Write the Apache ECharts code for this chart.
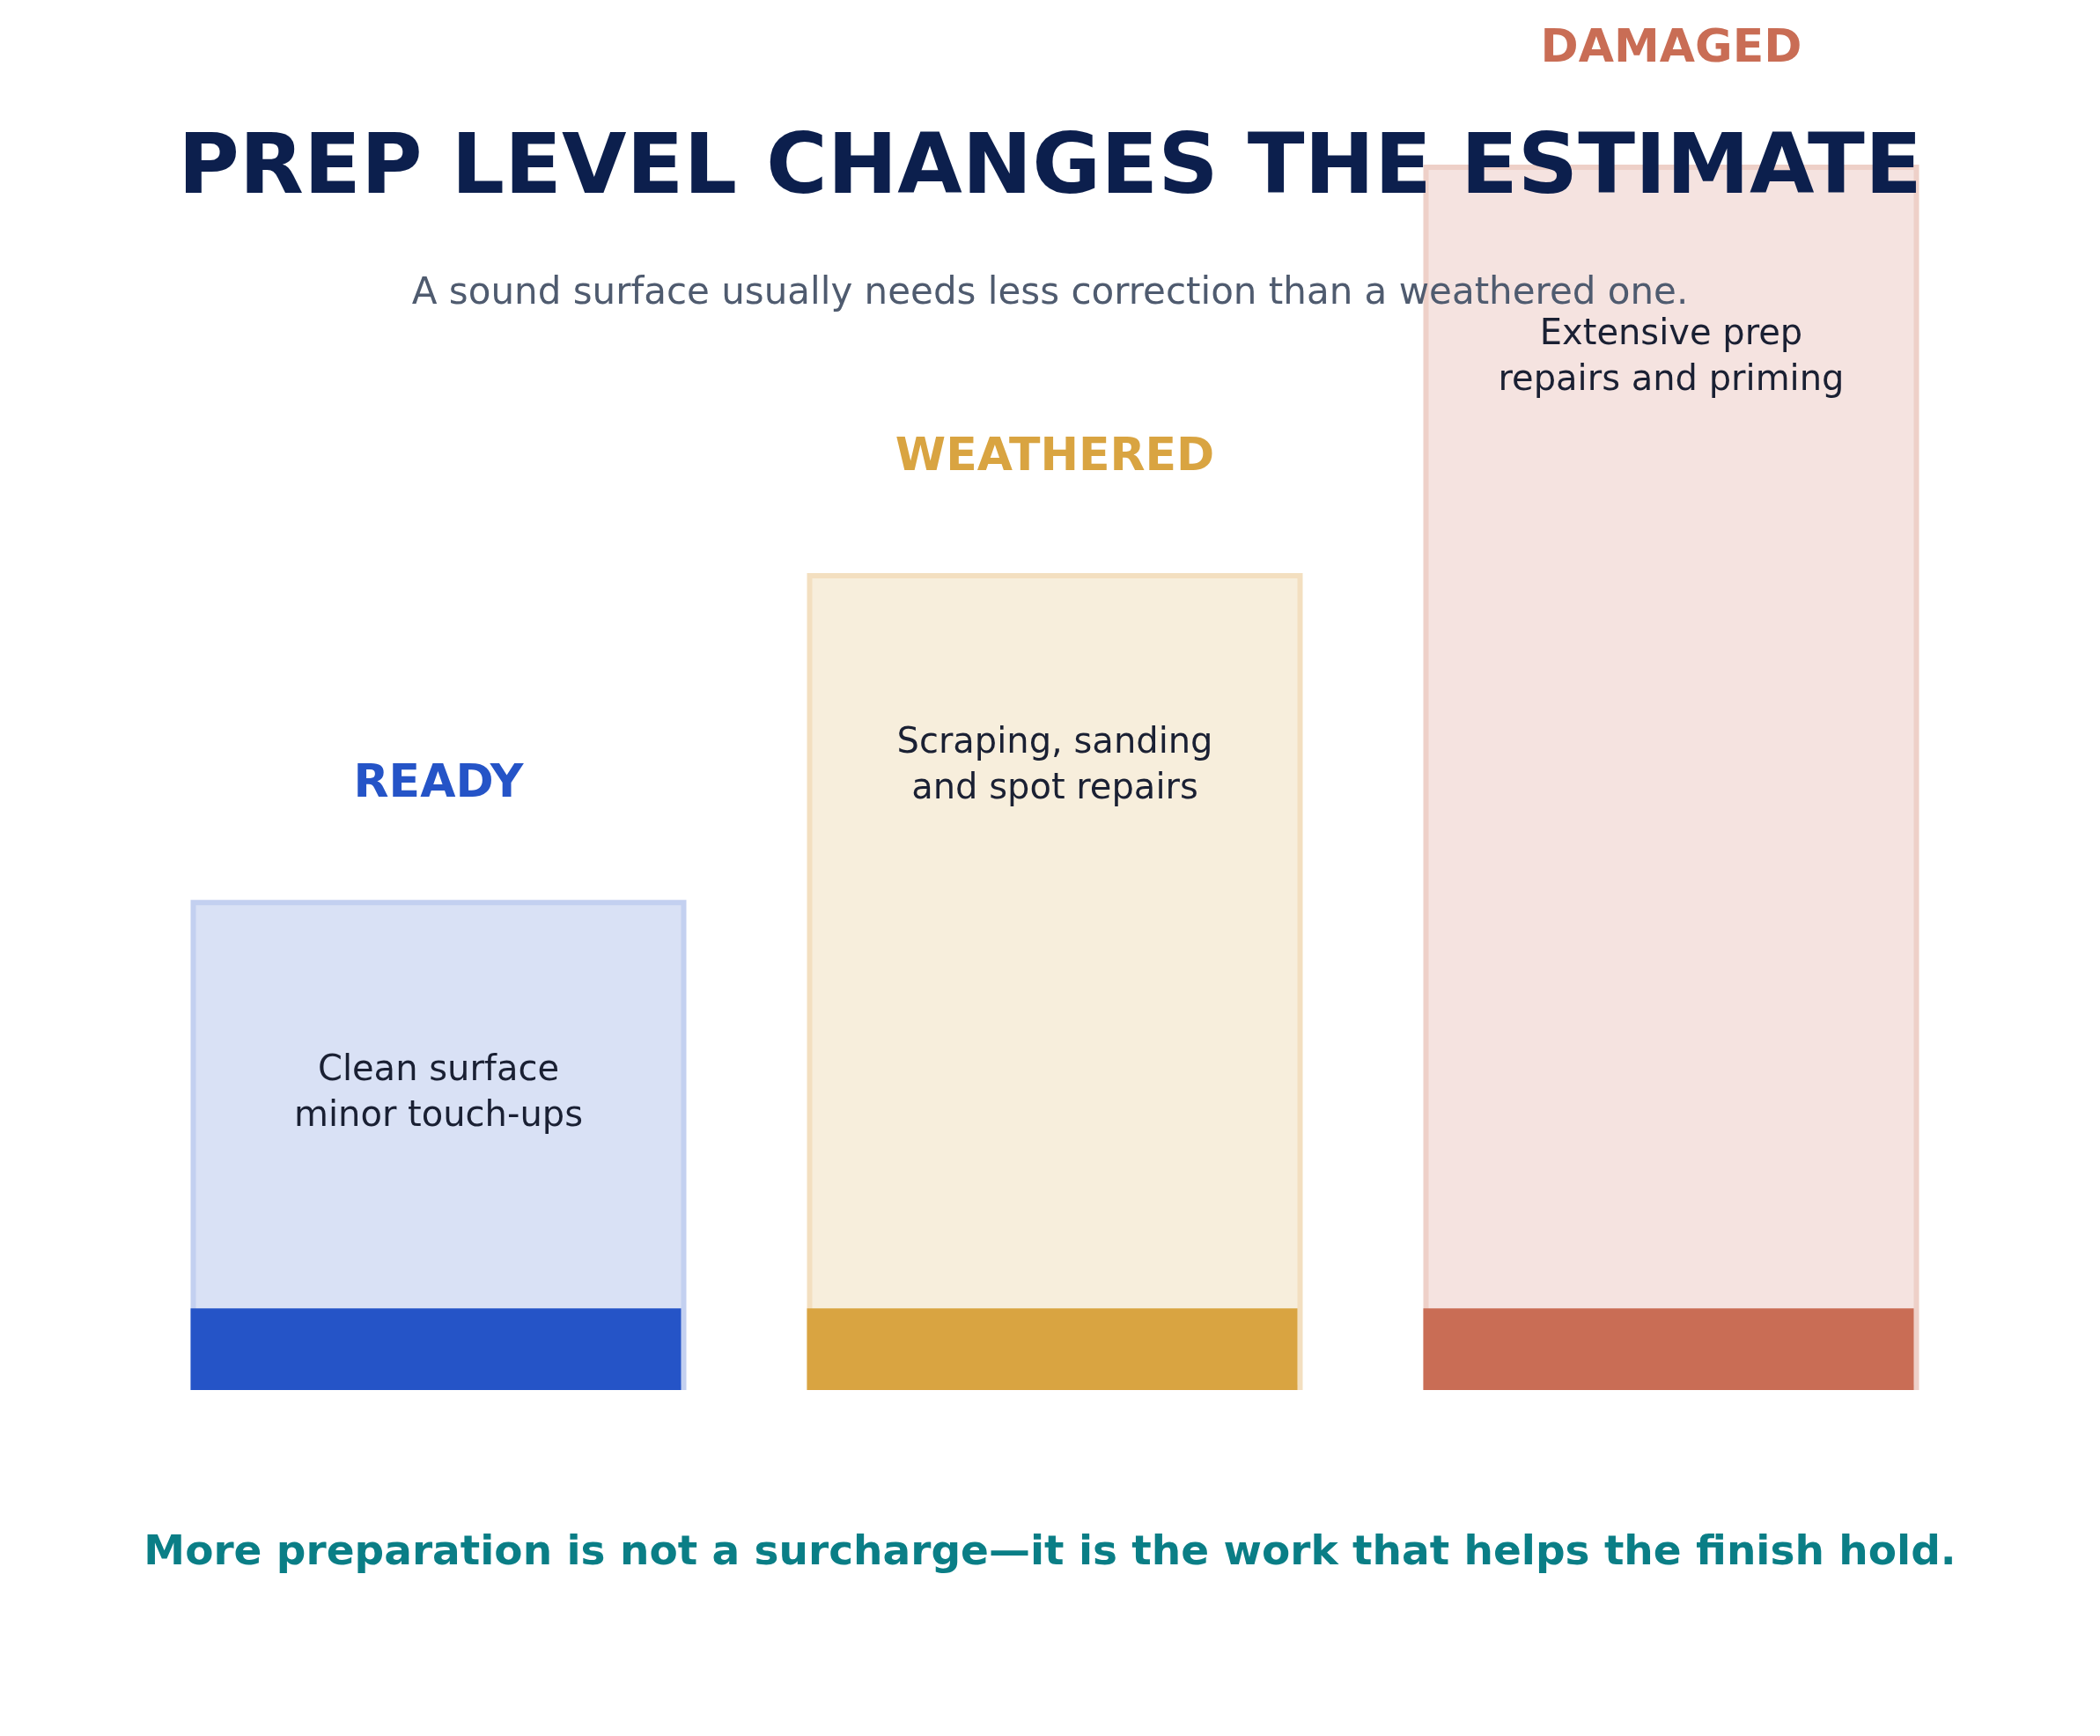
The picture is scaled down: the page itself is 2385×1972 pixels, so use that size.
<!DOCTYPE html><html><head><meta charset="utf-8">
<script src="https://cdn.jsdelivr.net/npm/echarts@6/dist/echarts.min.js"></script>
<style>html,body{margin:0;background:#fff}#c{width:2385px;height:1972px}</style></head><body><div id="c"></div>
<script>
const categories=['READY','WEATHERED','DAMAGED'];
const values=[3,5,7.5];
const baseBand=[0.5,0.5,0.5];
const descriptions=['Clean surface\nminor touch-ups','Scraping, sanding\nand spot repairs','Extensive prep\nrepairs and priming'];
const dark=['#2554C7','#D9A441','#C96D55'];
const light=['#D9E1F5','#F7EEDC','#F5E3E0'];
const border=['#C3D0F0','#F3DFC0','#EED0C8'];
const F='DejaVu Sans';
const chart=echarts.init(document.getElementById('c'));
chart.setOption({
 animation:false,
 title:[
  {text:'PREP LEVEL CHANGES THE ESTIMATE',left:'center',top:142,textStyle:{fontFamily:F,fontSize:95,fontWeight:'bold',color:'#0C1F4D'},z:10},
  {text:'A sound surface usually needs less correction than a weathered one.',left:'center',top:308,textStyle:{fontFamily:F,fontSize:42,fontWeight:'normal',color:'#4F5B6F'},z:10},
  {text:'More preparation is not a surcharge—it is the work that helps the finish hold.',left:'center',top:1736,textStyle:{fontFamily:F,fontSize:47,fontWeight:'bold',color:'#0A7E86'},z:10}
 ],
 grid:{left:148,right:137,top:187,bottom:393},
 xAxis:{type:'category',data:categories,show:false},
 yAxis:{type:'value',min:0,max:7.5,show:false},
 series:[
  {type:'bar',barWidth:563,barGap:'-100%',
   data:values.map((v,i)=>({value:v,itemStyle:{color:light[i],borderColor:border[i],borderWidth:6},
    label:{show:true,position:'top',distance:105,formatter:categories[i],color:dark[i],fontFamily:F,fontSize:52,fontWeight:'bold'}}))},
  {type:'bar',barWidth:557,
   data:baseBand.map((v,i)=>({value:v,itemStyle:{color:dark[i]}}))},
  {type:'bar',barWidth:563,barGap:'-100%',silent:true,
   data:values.map((v,i)=>({value:v,itemStyle:{color:'transparent'},
    label:{show:true,position:'insideTop',distance:168,formatter:descriptions[i],color:'#1A2033',fontFamily:F,fontSize:40,lineHeight:52}}))}
 ]
});
</script></body></html>
